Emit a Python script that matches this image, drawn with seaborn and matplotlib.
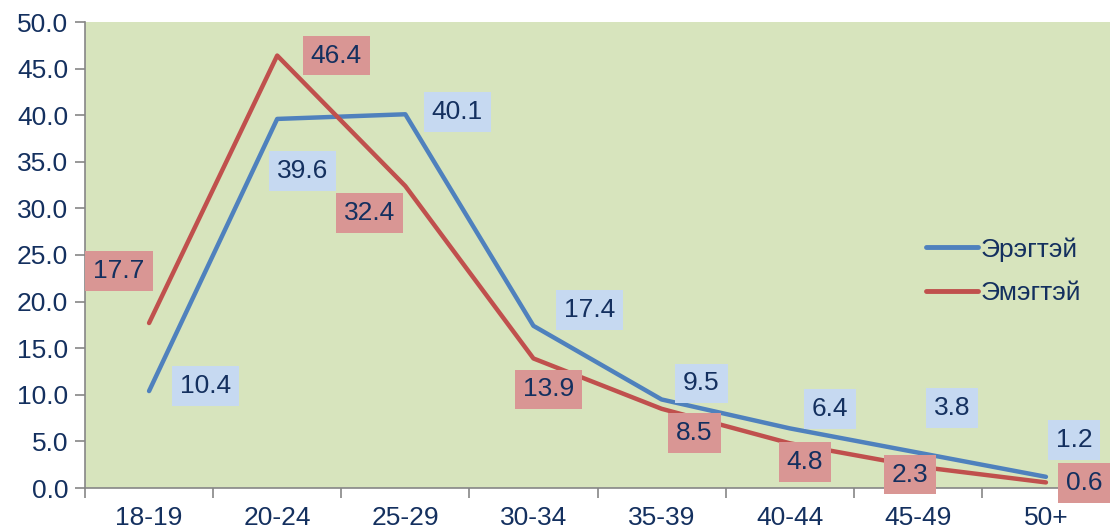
import numpy as np
import pandas as pd
import matplotlib
matplotlib.use("Agg")
import matplotlib.pyplot as plt
import seaborn as sns

# Age groups and series values
age_groups = ["18-19", "20-24", "25-29", "30-34", "35-39", "40-44", "45-49", "50+"]
male = [10.4, 39.6, 40.1, 17.4, 9.5, 6.4, 3.8, 1.2]
female = [17.7, 46.4, 32.4, 13.9, 8.5, 4.8, 2.3, 0.6]
series_names = ["Эрэгтэй", "Эмэгтэй"]

# label offsets from each point (pixels)
male_offsets = [(56, 5), (25, -52), (52, 2), (56, 16), (40, 16), (40, 19), (34, 45), (28, 37)]
female_offsets = [(-30, 52), (59, 0), (-36, -27), (15, -31), (33, -24), (15, -19), (-8, -8), (38, -1)]

sns.set_theme(style="white")
plt.rcParams["font.family"] = ["Liberation Sans", "DejaVu Sans"]

text_col = "#14305f"
fsize = 19
colors = {"Эрэгтэй": "#4f81bd", "Эмэгтэй": "#c0504d"}
box_cols = {"Эрэгтэй": "#c6d9f1", "Эмэгтэй": "#d99694"}

df = pd.DataFrame({
    "age": age_groups * 2,
    "value": male + female,
    "sex": [series_names[0]] * len(male) + [series_names[1]] * len(female),
})

fig = plt.figure(figsize=(11.1, 5.31), dpi=100)
ax = fig.add_axes([85 / 1110, 43 / 531, 1 - 85 / 1110, 466 / 531])
ax.set_facecolor("#d7e4bd")

sns.lineplot(data=df, x="age", y="value", hue="sex", palette=colors, sort=False,
             linewidth=3.2, ax=ax, solid_capstyle="round")

ax.set_xlim(-0.5, len(age_groups) - 0.5)
ax.set_ylim(0, 50)
ax.set_yticks(np.arange(0, 50.1, 5))
ax.set_yticklabels([f"{v:.1f}" for v in np.arange(0, 50.1, 5)])
ax.set_xlabel("")
ax.set_ylabel("")

# category boundaries as tick marks
ax.set_xticks(np.arange(-0.5, len(age_groups), 1), minor=True)
ax.tick_params(axis="x", which="minor", length=7, width=1.2, color="#868686", direction="out", bottom=True)
ax.tick_params(axis="x", which="major", length=0, pad=13, labelsize=fsize, labelcolor=text_col)
ax.tick_params(axis="y", length=7, width=1.2, color="#868686", direction="out", left=True,
               labelsize=fsize, labelcolor=text_col, pad=5)

for side in ["top", "right"]:
    ax.spines[side].set_visible(False)
for side in ["left", "bottom"]:
    ax.spines[side].set_color("#868686")
    ax.spines[side].set_linewidth(1.2)

for name, vals, offs in [(series_names[0], male, male_offsets), (series_names[1], female, female_offsets)]:
    for i, (v, off) in enumerate(zip(vals, offs)):
        ax.annotate(f"{v:.1f}", (i, v), textcoords="offset pixels", xytext=off,
                    ha="center", va="center", fontsize=fsize, color=text_col,
                    bbox=dict(boxstyle="square,pad=0.3", fc=box_cols[name], ec="none"),
                    annotation_clip=False)

leg = ax.legend(loc="center left", bbox_to_anchor=(0.797, 0.465), frameon=False,
                fontsize=fsize, handlelength=2.0, handletextpad=0.1, labelspacing=0.75)
for t in leg.get_texts():
    t.set_color(text_col)
for h in leg.get_lines():
    h.set_linewidth(3.5)

fig.savefig("out.png", dpi=100)
